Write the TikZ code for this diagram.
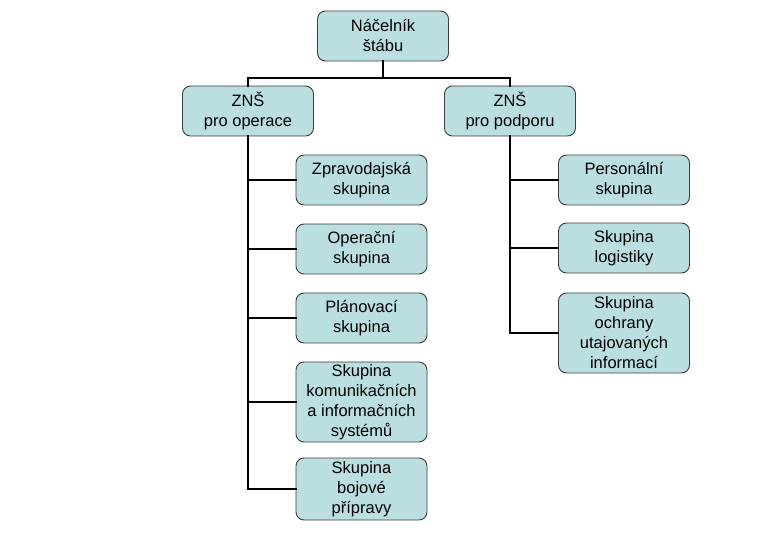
\documentclass[tikz,border=0pt]{standalone}
\usepackage{fontspec}
\setmainfont{Liberation Sans}
\usepackage{xcolor}
\usepackage{tikz}
\usetikzlibrary{positioning}
\definecolor{boxfill}{RGB}{187,223,225}
\definecolor{boxline}{RGB}{60,60,60}

\begin{document}
\begin{tikzpicture}[
  x=1pt, y=-1pt,
  box/.style={draw=boxline, fill=boxfill, rounded corners=8pt, align=center,
    font=\fontsize{16.5}{20}\selectfont, inner sep=0pt,
    minimum width=131pt, minimum height=50pt, line width=0.9pt},
  conn/.style={line width=2.3pt, line cap=rect}
]
\path[use as bounding box] (0,0) rectangle (780,540);
% top level
\node[box] (chief) at (383,36) {Náčelník\\štábu};
\node[box] (ops) at (248,111) {ZNŠ\\pro operace};
\node[box] (sup) at (510,111) {ZNŠ\\pro podporu};
% operations groups
\node[box] (intel) at (361.5,180) {Zpravodajská\\skupina};
\node[box] (oper) at (361.5,249) {Operační\\skupina};
\node[box] (plan) at (361.5,318) {Plánovací\\skupina};
\node[box, minimum height=80pt] (comm) at (361.5,402) {Skupina\\komunikačních\\a informačních\\systémů};
\node[box, minimum height=62pt] (train) at (361.5,489) {Skupina\\bojové\\přípravy};
% support groups
\node[box] (pers) at (624,180) {Personální\\skupina};
\node[box] (logi) at (624,248) {Skupina\\logistiky};
\node[box, minimum height=80pt] (secr) at (624,333) {Skupina\\ochrany\\utajovaných\\informací};
% connectors
\coordinate (split) at (383,78);
\draw[conn] (chief.south) -- (split);
\draw[conn] (split) -| (ops.north);
\draw[conn] (split) -| (sup.north);
\foreach \g in {intel,oper,plan,comm,train}
  \draw[conn] (ops.south) |- (\g.west);
\foreach \g in {pers,logi,secr}
  \draw[conn] (sup.south) |- (\g.west);
\end{tikzpicture}
\end{document}
